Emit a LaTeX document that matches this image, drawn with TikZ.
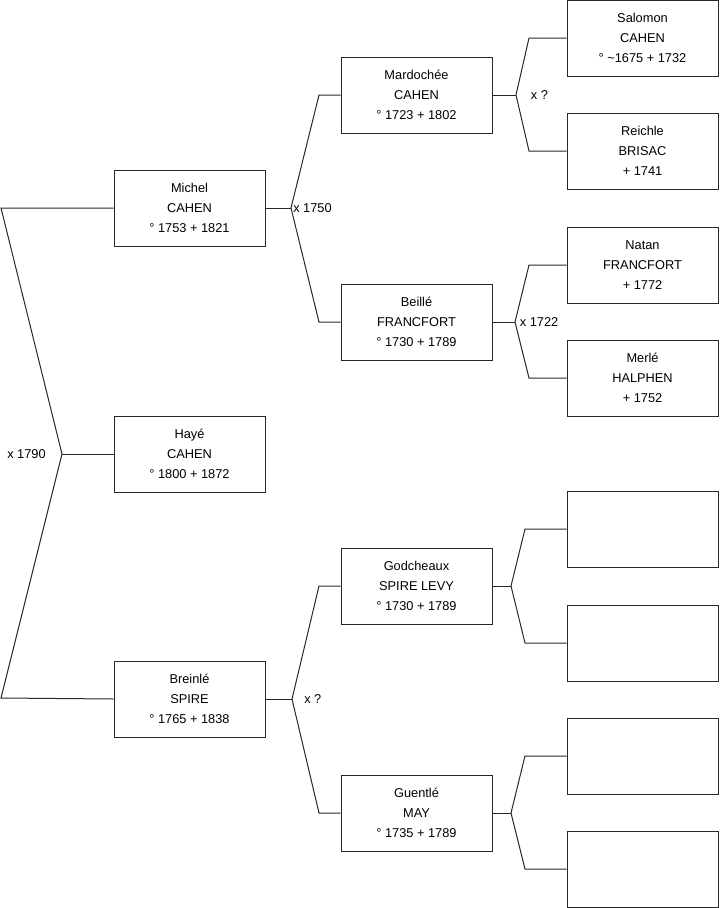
\documentclass[tikz,border=0pt]{standalone}
\usepackage{fontspec}
\setmainfont{Liberation Sans}
\usetikzlibrary{positioning}
\definecolor{boxline}{RGB}{40,40,40}

\begin{document}
\begin{tikzpicture}[x=0.75pt, y=-0.75pt,
    person/.style={draw=boxline, line width=0.75pt, fill=white, minimum width=113.25pt, minimum height=57pt, inner sep=0pt, align=center, font=\fontsize{9.6}{15}\selectfont},
    link/.style={draw=boxline, line width=0.75pt},
    wed/.style={font=\fontsize{9.6}{11}\selectfont, inner sep=0pt}
]
\useasboundingbox (0,0) rectangle (719,908);

% generation 1 and 2
\node[person] (michel) at (189.5,208) {Michel\\CAHEN\\° 1753 + 1821};
\node[person] (haye) at (189.5,454) {Hayé\\CAHEN\\° 1800 + 1872};
\node[person] (breinle) at (189.5,699) {Breinlé\\SPIRE\\° 1765 + 1838};

% generation 3
\node[person] (mardochee) at (416.5,95) {Mardochée\\CAHEN\\° 1723 + 1802};
\node[person] (beille) at (416.5,322) {Beillé\\FRANCFORT\\° 1730 + 1789};
\node[person] (godcheaux) at (416.5,586) {Godcheaux\\SPIRE LEVY\\° 1730 + 1789};
\node[person] (guentle) at (416.5,813) {Guentlé\\MAY\\° 1735 + 1789};

% generation 4
\node[person] (salomon) at (642.5,38) {Salomon\\CAHEN\\° \textasciitilde1675 + 1732};
\node[person] (reichle) at (642.5,151) {Reichle\\BRISAC\\+ 1741};
\node[person] (natan) at (642.5,265) {Natan\\FRANCFORT\\+ 1772};
\node[person] (merle) at (642.5,378) {Merlé\\HALPHEN\\+ 1752};
\node[person] (empty1) at (642.5,529) {};
\node[person] (empty2) at (642.5,643) {};
\node[person] (empty3) at (642.5,756) {};
\node[person] (empty4) at (642.5,869) {};

% junctions
\coordinate (j0) at (62,454);
\coordinate (j0a) at (1,208);
\coordinate (j0b) at (1,698);
\coordinate (j1) at (291,208);
\coordinate (j1a) at (319,95);
\coordinate (j1b) at (319,322);
\coordinate (j4) at (292,699);
\coordinate (j4a) at (319,586);
\coordinate (j4b) at (319,813);
\coordinate (j2) at (516,95);
\coordinate (j2a) at (529,38);
\coordinate (j2b) at (529,151);
\coordinate (j3) at (515,322);
\coordinate (j3a) at (529,265);
\coordinate (j3b) at (529,378);
\coordinate (j5) at (511,586);
\coordinate (j5a) at (525,529);
\coordinate (j5b) at (525,643);
\coordinate (j6) at (511,813);
\coordinate (j6a) at (525,756);
\coordinate (j6b) at (525,869);

\draw[link] (michel.west) -- (j0a) -- (j0) -- (j0b) -- (breinle.west);
\draw[link] (haye.west) -- (j0);

\draw[link] (mardochee.west) -- (j1a) -- (j1) -- (j1b) -- (beille.west);
\draw[link] (michel.east) -- (j1);
\draw[link] (godcheaux.west) -- (j4a) -- (j4) -- (j4b) -- (guentle.west);
\draw[link] (breinle.east) -- (j4);

\draw[link] (salomon.west) -- (j2a) -- (j2) -- (j2b) -- (reichle.west);
\draw[link] (mardochee.east) -- (j2);
\draw[link] (natan.west) -- (j3a) -- (j3) -- (j3b) -- (merle.west);
\draw[link] (beille.east) -- (j3);
\draw[link] (empty1.west) -- (j5a) -- (j5) -- (j5b) -- (empty2.west);
\draw[link] (godcheaux.east) -- (j5);
\draw[link] (empty3.west) -- (j6a) -- (j6) -- (j6b) -- (empty4.west);
\draw[link] (guentle.east) -- (j6);

% marriages
\node[wed, left=12pt of j0] (m0) {x 1790};
\node[wed, right=1.5pt of j1] (m1) {x 1750};
\node[wed, right=11pt of j2] (m2) {x ?};
\node[wed, right=3.5pt of j3] (m3) {x 1722};
\node[wed, right=9pt of j4] (m4) {x ?};
\end{tikzpicture}
\end{document}
